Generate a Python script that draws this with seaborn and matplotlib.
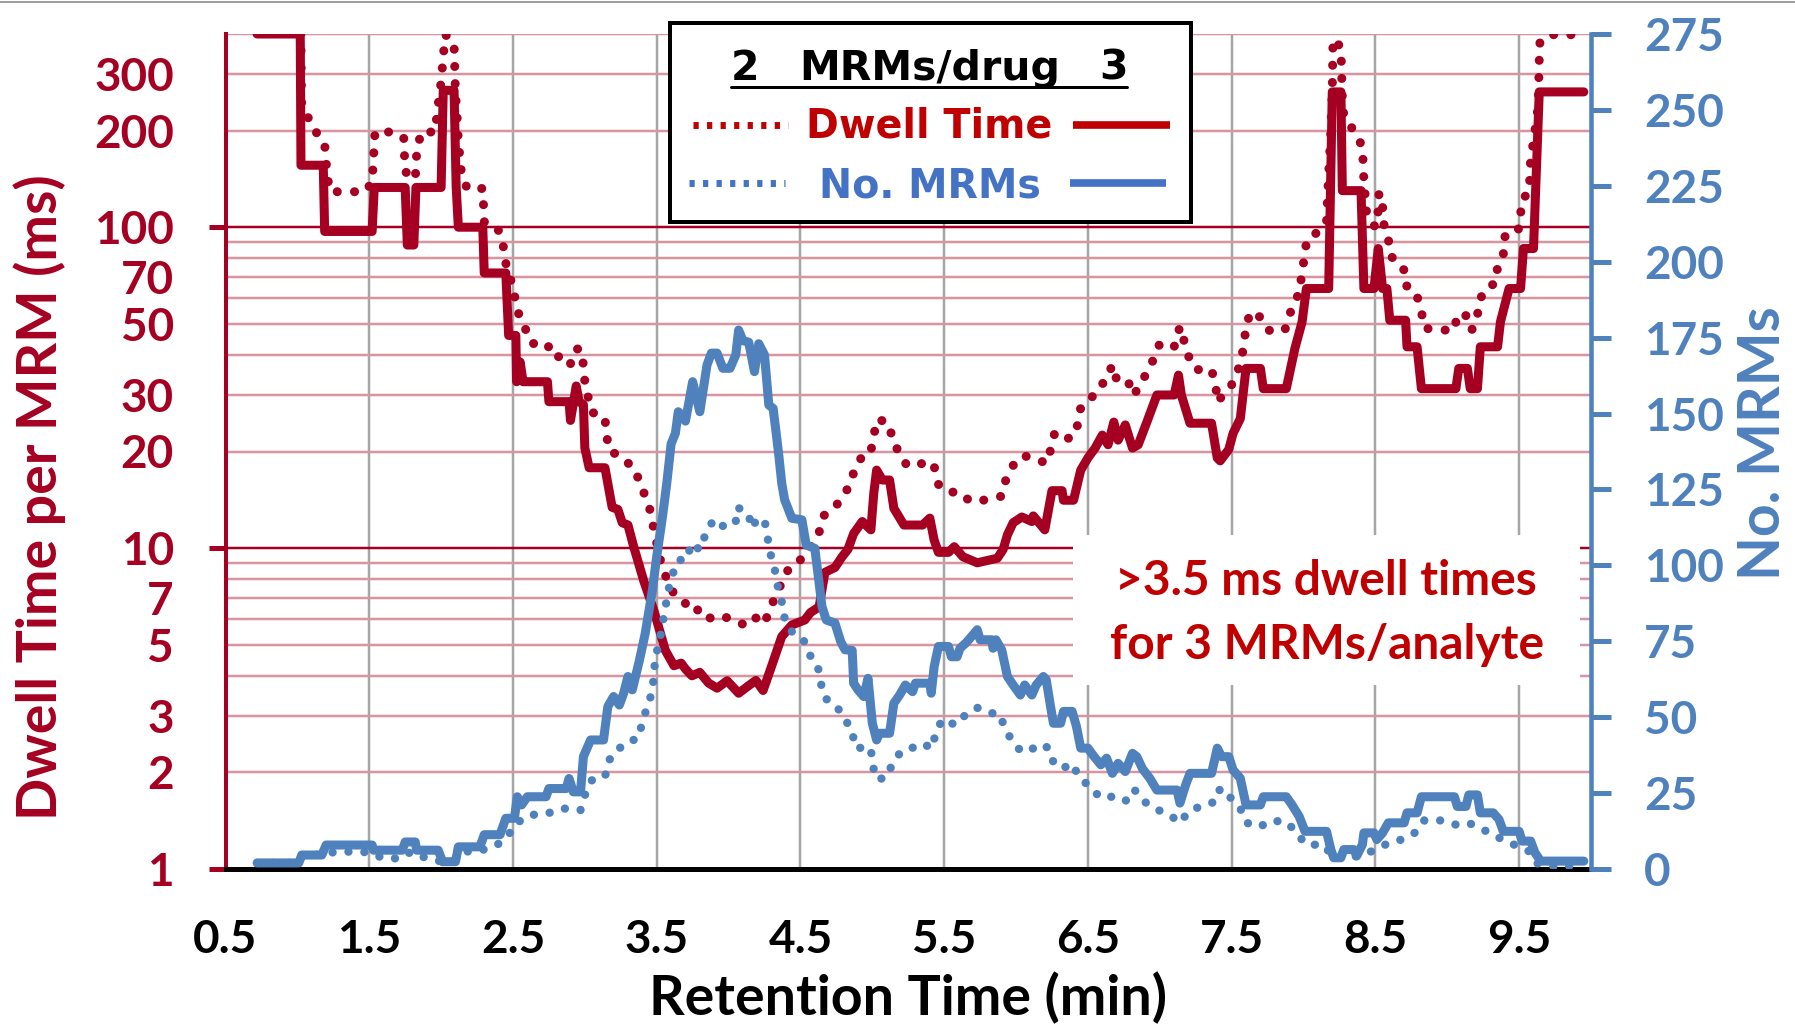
import numpy as np
import pandas as pd
import matplotlib.pyplot as plt
import seaborn as sns
from matplotlib.lines import Line2D
from matplotlib.patches import Rectangle
from matplotlib.ticker import FixedLocator, FixedFormatter

# ===============================
# DATA
# ===============================
# dwell time per MRM, 3 MRMs/drug (solid red)
rt_dwell3 = [0.72, 1.02, 1.025, 1.18, 1.19, 1.52, 1.535, 1.75, 1.765, 1.81, 1.825, 2.00, 2.015, 2.09,
             2.105, 2.12, 2.29, 2.30, 2.45, 2.47, 2.52, 2.525, 2.55, 2.57, 2.74, 2.75, 2.89, 2.90, 2.94,
             2.96, 2.99, 3.00, 3.03, 3.14, 3.19, 3.23, 3.26, 3.30, 3.34, 3.41, 3.48, 3.56, 3.62, 3.67,
             3.70, 3.745, 3.80, 3.86, 3.92, 3.99, 4.07, 4.13, 4.19, 4.24, 4.29, 4.37, 4.44, 4.53, 4.57,
             4.63, 4.67, 4.74, 4.79, 4.83, 4.87, 4.93, 4.99, 5.01, 5.03, 5.07, 5.12, 5.15, 5.22, 5.28,
             5.35, 5.40, 5.43, 5.46, 5.53, 5.57, 5.63, 5.73, 5.87, 5.91, 5.94, 5.98, 6.04, 6.11, 6.12,
             6.20, 6.25, 6.32, 6.33, 6.40, 6.45, 6.50, 6.55, 6.60, 6.64, 6.68, 6.71, 6.76, 6.81, 6.85,
             6.91, 6.98, 7.10, 7.13, 7.15, 7.21, 7.36, 7.40, 7.42, 7.48, 7.51, 7.56, 7.60, 7.70, 7.72,
             7.88, 7.91, 7.94, 7.99, 8.02, 8.175, 8.20, 8.26, 8.27, 8.40, 8.42, 8.49, 8.52, 8.55, 8.58,
             8.60, 8.71, 8.72, 8.79, 8.82, 9.06, 9.08, 9.14, 9.16, 9.21, 9.23, 9.35, 9.37, 9.43, 9.51,
             9.53, 9.60, 9.64, 9.95]
dwell3 = [400, 400, 156, 156, 97, 97, 133, 133, 88, 88, 133, 133, 267, 267,
          133, 100, 100, 72, 72, 46, 46, 33, 38, 33, 33, 28.6, 28.6, 25, 32,
          28.6, 28, 20.5, 17.8, 17.8, 13.4, 13.2, 12.0, 11.8, 10.1, 7.9, 6.4, 4.8, 4.3, 4.38,
          4.2, 4.0, 4.1, 3.8, 3.66, 3.86, 3.53, 3.7, 3.87, 3.6, 4.17, 5.3, 5.76, 5.97, 6.3,
          6.56, 8.4, 8.7, 9.4, 9.9, 11.1, 12.1, 11.4, 14.8, 17.5, 16.3, 16.3, 13.3, 11.8, 11.8,
          11.8, 12.4, 10.6, 9.7, 9.7, 10.1, 9.4, 9.0, 9.3, 9.9, 11.0, 12.0, 12.5, 12.1, 12.6,
          11.4, 15.1, 15.1, 14.1, 14.1, 17.5, 19.1, 20.5, 22.5, 21, 24.7, 21.7, 24.2, 20.5, 21,
          24.7, 30, 30, 34.6, 30, 24.5, 24.5, 19.1, 18.7, 20.3, 22.8, 25.3, 36.3, 36.3, 31.4,
          31.4, 36.3, 41.9, 50.7, 64.4, 64.4, 264, 264, 130, 130, 64.4, 64.4, 85.8, 64.4, 64.4,
          51.3, 51.3, 42.4, 42.4, 31.4, 31.4, 36.3, 36.3, 31.4, 31.4, 42.4, 42.4, 50.7, 64.4, 64.4,
          85.8, 85.8, 264, 264]

# dwell time per MRM, 2 MRMs/drug (dotted red)
rt_dwell2 = [0.72, 1.02, 1.03, 1.12, 1.14, 1.19, 1.20, 1.21, 1.23, 1.47, 1.52, 1.53, 1.54, 1.66, 1.74,
             1.75, 1.82, 1.83, 1.86, 1.96, 1.97, 2.00, 2.02, 2.03, 2.09, 2.10, 2.11, 2.12, 2.14, 2.18,
             2.29, 2.30, 2.39, 2.43, 2.44, 2.50, 2.53, 2.59, 2.63, 2.74, 2.77, 2.88, 2.90, 2.92, 2.96,
             2.99, 3.00, 3.02, 3.05, 3.14, 3.15, 3.17, 3.23, 3.28, 3.33, 3.38, 3.42, 3.46, 3.48, 3.53,
             3.57, 3.62, 3.68, 3.75, 3.81, 3.88, 3.97, 4.05, 4.11, 4.18, 4.25, 4.29, 4.34, 4.38, 4.44,
             4.52, 4.63, 4.66, 4.74, 4.80, 4.85, 4.88, 4.93, 4.99, 5.00, 5.03, 5.04, 5.12, 5.14, 5.19,
             5.24, 5.29, 5.40, 5.43, 5.46, 5.53, 5.60, 5.68, 5.75, 5.84, 5.90, 5.93, 5.98, 6.04, 6.11,
             6.17, 6.23, 6.24, 6.27, 6.33, 6.39, 6.43, 6.45, 6.52, 6.57, 6.62, 6.67, 6.70, 6.75, 6.78,
             6.82, 6.87, 6.92, 6.96, 7.00, 7.10, 7.13, 7.14, 7.17, 7.20, 7.25, 7.36, 7.39, 7.40, 7.44,
             7.50, 7.54, 7.57, 7.59, 7.60, 7.64, 7.71, 7.76, 7.87, 7.90, 7.94, 7.98, 7.985, 8.01, 8.02,
             8.09, 8.16, 8.17, 8.19, 8.20, 8.205, 8.26, 8.265, 8.27, 8.28, 8.37, 8.41, 8.415, 8.42, 8.43,
             8.44, 8.50, 8.52, 8.525, 8.55, 8.555, 8.59, 8.595, 8.64, 8.71, 8.72, 8.79, 8.82, 8.84, 8.93,
             9.05, 9.07, 9.14, 9.17, 9.21, 9.215, 9.26, 9.34, 9.35, 9.39, 9.40, 9.49, 9.51, 9.515, 9.57,
             9.575, 9.58, 9.60, 9.615, 9.63, 9.635, 9.64, 9.645, 9.72, 9.95]
dwell2 = [600, 600, 235, 205, 193, 181, 160, 142, 129, 129, 138, 165, 198, 198, 190,
          149, 141, 170, 198, 198, 223, 284, 360, 398, 376, 261, 228, 185, 150, 132,
          132, 104, 100, 90, 80, 65, 55, 47.8, 43.4, 43.4, 39.5, 39.5, 37.5, 41, 42,
          37.4, 33, 29.9, 26.5, 25.5, 22.6, 20.1, 19.5, 18.6, 18.1, 16.2, 14.5, 12.9, 11.4, 9.0,
          8.0, 7.2, 6.9, 6.3, 6.5, 6.0, 6.1, 5.97, 5.75, 6.1, 5.8, 6.56, 7.2, 8.1, 8.9,
          9.3, 11.2, 12.6, 13.4, 14.6, 15.9, 17.9, 19.3, 19.7, 21.8, 24.3, 25.3, 24.3, 21.5, 19.8,
          18.1, 18.0, 18.7, 18.0, 15.8, 14.9, 15.0, 14.0, 14.0, 14.4, 14.5, 16.4, 18.1, 19.4, 19.2,
          18.6, 18.6, 20.6, 22.9, 22.0, 22.0, 24.3, 27.4, 29.1, 31.8, 33, 37.2, 33.5, 33.9, 33,
          29.9, 33, 35.6, 39.2, 43.4, 42.4, 47.3, 49, 44, 39.6, 36, 36, 32, 28.5, 30,
          32.3, 35.3, 39.3, 44.5, 50, 54.7, 52, 47.7, 47.7, 53.2, 58.2, 64.4, 72.6, 80.9, 91,
          96, 104, 132, 200, 267, 386, 364, 300, 254, 223, 193, 178, 158, 139, 124,
          109, 100, 113, 128, 117, 103, 95, 84, 77, 73, 64.4, 61, 54.7, 48.5, 47.8,
          47.8, 53.7, 52.9, 47.8, 52.1, 57.6, 64, 67.2, 75.9, 82.3, 93.4, 96, 107, 121, 129,
          145, 164, 185, 208, 234, 263, 334, 379, 398, 398]

# number of concurrent MRMs, 3 MRMs/drug (solid blue)
rt_mrm3 = [0.72, 1.01, 1.03, 1.17, 1.20, 1.52, 1.53, 1.73, 1.75, 1.82, 1.83, 1.98, 2.01, 2.10, 2.12,
           2.27, 2.30, 2.41, 2.45, 2.51, 2.53, 2.56, 2.60, 2.73, 2.75, 2.87, 2.89, 2.92, 2.97, 2.99,
           3.04, 3.13, 3.16, 3.20, 3.24, 3.27, 3.30, 3.33, 3.38, 3.42, 3.47, 3.50, 3.54, 3.57, 3.60,
           3.63, 3.65, 3.70, 3.75, 3.80, 3.85, 3.88, 3.92, 3.96, 4.01, 4.05, 4.07, 4.10, 4.14, 4.18,
           4.21, 4.25, 4.28, 4.31, 4.33, 4.35, 4.37, 4.39, 4.44, 4.51, 4.54, 4.60, 4.65, 4.68, 4.74,
           4.78, 4.81, 4.86, 4.87, 4.90, 4.94, 4.97, 5.00, 5.03, 5.05, 5.12, 5.15, 5.19, 5.23, 5.28,
           5.30, 5.40, 5.41, 5.43, 5.46, 5.53, 5.55, 5.59, 5.61, 5.65, 5.68, 5.73, 5.75, 5.83, 5.84,
           5.86, 5.90, 5.94, 5.98, 6.03, 6.06, 6.11, 6.14, 6.19, 6.21, 6.24, 6.26, 6.31, 6.33, 6.39,
           6.42, 6.45, 6.50, 6.54, 6.59, 6.63, 6.67, 6.71, 6.76, 6.81, 6.84, 6.88, 6.93, 6.98, 7.12,
           7.14, 7.18, 7.21, 7.36, 7.40, 7.43, 7.48, 7.51, 7.56, 7.60, 7.70, 7.72, 7.88, 7.92, 7.97,
           8.01, 8.16, 8.19, 8.21, 8.26, 8.28, 8.35, 8.37, 8.41, 8.42, 8.49, 8.51, 8.55, 8.59, 8.70,
           8.72, 8.79, 8.82, 9.05, 9.07, 9.13, 9.15, 9.21, 9.23, 9.32, 9.36, 9.39, 9.50, 9.52, 9.58,
           9.61, 9.65, 9.95]
mrm3 = [2, 2, 4.6, 4.6, 7.9, 7.9, 6.2, 6.2, 8.9, 8.9, 6.2, 6.2, 2.4, 2.4, 7.3,
        7.3, 11.3, 11.3, 16.7, 16.7, 23.8, 21.1, 23.8, 23.8, 26.5, 26.5, 29.8, 25.4, 25.4, 37,
        42.5, 42.5, 53.5, 56.8, 54, 57.9, 63.4, 59, 68.8, 77.6, 91.9, 102.9, 116, 127, 140,
        143.5, 150.6, 147.5, 160.5, 150.6, 166, 169.9, 169.9, 164.9, 164.9, 169.3, 177.5, 174, 173.5, 163.8,
        173, 169.3, 152.8, 151.7, 144, 136, 127, 121.6, 115.5, 115, 106.7, 105.6, 86.4, 82, 81,
        74.9, 72.2, 72, 61.2, 59, 56.8, 62.8, 48, 42.5, 44.7, 44.7, 54.6, 57.3, 60.6, 58.4,
        61.2, 61.2, 57.9, 66.6, 73.3, 73.3, 69.9, 69.9, 72.7, 74.4, 76, 78.8, 75.5, 75.5, 72.7,
        75.5, 72.2, 63.4, 60.6, 57.3, 60.6, 57.3, 60.6, 63.4, 62.3, 53.5, 48, 48, 51.9, 51.9,
        47, 39.8, 39.8, 37.2, 34.3, 36.5, 31.5, 34.8, 32.1, 38.1, 37, 33, 29.9, 26, 26,
        21.7, 27.7, 31.5, 31.5, 39.8, 37, 37, 32.6, 29.9, 21.1, 21.1, 23.8, 23.8, 21.1, 17.3,
        12.4, 12.4, 6.4, 3.7, 3.7, 6.4, 6.4, 4.3, 8.1, 11.9, 11.9, 9.7, 11.9, 15.2, 15.2,
        18.5, 18.5, 23.8, 23.8, 20.6, 20.6, 24.4, 24.4, 18.5, 18.5, 16.3, 12.4, 12.4, 9.2, 9.2,
        5.4, 2.6, 2.6]

# number of concurrent MRMs, 2 MRMs/drug (dotted blue)
rt_mrm2 = [0.72, 1.01, 1.03, 1.28, 1.39, 1.50, 1.60, 1.72, 1.79, 1.90, 2.01, 2.10, 2.17, 2.29, 2.39,
           2.46, 2.53, 2.55, 2.63, 2.74, 2.84, 2.91, 2.97, 3.00, 3.05, 3.14, 3.17, 3.23, 3.28, 3.33,
           3.36, 3.40, 3.43, 3.47, 3.48, 3.49, 3.52, 3.54, 3.56, 3.58, 3.61, 3.65, 3.71, 3.74, 3.79,
           3.81, 3.84, 3.90, 3.96, 4.00, 4.05, 4.06, 4.13, 4.17, 4.19, 4.25, 4.27, 4.29, 4.32, 4.34,
           4.37, 4.39, 4.44, 4.52, 4.56, 4.62, 4.64, 4.67, 4.75, 4.81, 4.86, 4.88, 4.94, 4.99, 5.00,
           5.03, 5.10, 5.14, 5.20, 5.25, 5.34, 5.42, 5.44, 5.49, 5.58, 5.65, 5.73, 5.82, 5.88, 5.92,
           5.97, 6.04, 6.11, 6.18, 6.23, 6.26, 6.32, 6.39, 6.44, 6.51, 6.58, 6.64, 6.70, 6.76, 6.82,
           6.89, 6.96, 7.07, 7.14, 7.20, 7.29, 7.39, 7.42, 7.49, 7.56, 7.60, 7.69, 7.78, 7.89, 7.95,
           8.02, 8.14, 8.21, 8.30, 8.37, 8.51, 8.59, 8.70, 8.78, 8.84, 8.96, 9.06, 9.15, 9.22, 9.30,
           9.39, 9.48, 9.57, 9.62, 9.75, 9.95]
mrm2 = [2, 2, 4, 5.7, 5.7, 5.5, 3.5, 3.5, 5.7, 3.5, 2.4, 3, 5.7, 6.3, 7.9,
        11.2, 13.9, 16.1, 17.8, 18.3, 19.9, 19.9, 19.4, 24.3, 29.3, 30.4, 35.9, 39.7, 40.5, 42.5,
        42.5, 47.8, 53.1, 58.4, 63.9, 69.6, 75.1, 80.7, 86, 91.7, 97, 101.8, 101.8, 107.3, 105.5,
        105.3, 110.8, 115.2, 113, 112.5, 114.4, 119.1, 117.5, 112.2, 115, 115, 109.5, 104, 99, 93.5,
        88, 82.5, 78.2, 75.6, 70.8, 67, 61.5, 56.3, 53.7, 49.3, 45.5, 39.9, 39.9, 39.9, 34.5,
        29.5, 30.1, 34.8, 38.7, 39.2, 41.4, 39.8, 45.2, 49.3, 47.4, 50.9, 53.1, 51.3, 51.3, 46.9,
        42.2, 38.5, 39.5, 41.2, 39.6, 35.1, 33, 34.8, 30.1, 27.3, 23.8, 24.3, 22.9, 22.3, 26.3,
        22.3, 20, 17.8, 15.2, 18.9, 20.8, 22.2, 26.6, 23.6, 20.0, 15.3, 13.8, 16, 15.3, 11.8,
        8.0, 8.0, 3.6, 3.8, 4.2, 6.4, 8.6, 9.9, 12.1, 16.0, 16.0, 14.6, 15.2, 13.5, 11.9,
        9.5, 7.7, 5.8, 1.9, 0.8, 1.2]

x_ticks = [0.5, 1.5, 2.5, 3.5, 4.5, 5.5, 6.5, 7.5, 8.5, 9.5]
left_major = [1, 10, 100]
left_minor = [2, 3, 4, 5, 6, 7, 8, 9, 20, 30, 40, 50, 60, 70, 80, 90, 200, 300, 400]
left_minor_labels = ["2", "3", "", "5", "", "7", "", "", "20", "30", "", "50", "", "70", "", "",
                     "200", "300", ""]
right_ticks = list(range(0, 276, 25))

# ===============================
# STYLE
# ===============================
RED = "#A50021"
RED_TXT = "#C00000"
PINK = "#D9949F"
BLUE = "#4F81BD"
BLUE_TXT = "#4472C4"
GRAY = "#A6A6A6"
PX = 0.72  # points per pixel at dpi 100

sns.set_style("white")
plt.rcParams["font.family"] = ["Lato", "DejaVu Sans"]
plt.rcParams["font.weight"] = "bold"
plt.rcParams["axes.labelweight"] = "bold"

W, H = 1795, 1025
fig = plt.figure(figsize=(W / 100, H / 100), dpi=100)
ax = fig.add_axes([225.5 / W, 1 - 869 / H, (1591 - 225.5) / W, 835 / H])
ax2 = ax.twinx()

dots = (0, (0.01, 1.9))

# ===============================
# LINES
# ===============================
sns.lineplot(x=rt_dwell2, y=dwell2, ax=ax, color=RED, lw=6.5, linestyle=dots,
             dash_capstyle="round", estimator=None, sort=False, legend=False)
sns.lineplot(x=rt_dwell3, y=dwell3, ax=ax, color=RED, lw=6.5,
             solid_joinstyle="round", estimator=None, sort=False, legend=False)
sns.lineplot(x=rt_mrm2, y=mrm2, ax=ax2, color=BLUE, lw=6.0, linestyle=dots,
             dash_capstyle="round", estimator=None, sort=False, legend=False)
sns.lineplot(x=rt_mrm3, y=mrm3, ax=ax2, color=BLUE, lw=6.5,
             solid_joinstyle="round", estimator=None, sort=False, legend=False)

# ===============================
# AXES
# ===============================
ax.set_yscale("log")
ax.set_xlim(0.5, 10.0)
ax.set_ylim(1, 400)
ax2.set_ylim(0, 275)

ax.xaxis.set_major_locator(FixedLocator(x_ticks))
ax.set_xticklabels([f"{v:.1f}" for v in x_ticks])
ax.yaxis.set_major_locator(FixedLocator(left_major))
ax.yaxis.set_major_formatter(FixedFormatter([str(v) for v in left_major]))
ax.yaxis.set_minor_locator(FixedLocator(left_minor))
ax.yaxis.set_minor_formatter(FixedFormatter(left_minor_labels))
ax2.yaxis.set_major_locator(FixedLocator(right_ticks))

ax.set_axisbelow(True)
ax.grid(axis="x", which="major", color=GRAY, lw=2.5 * PX)
ax.grid(axis="y", which="minor", color=PINK, lw=2.5 * PX)
ax.grid(axis="y", which="major", color=RED, lw=2.5 * PX)
ax2.grid(False)

ax.tick_params(axis="x", which="major", direction="out", length=17 * PX, width=4 * PX,
               color="black", pad=24, labelsize=33, labelcolor="black")
ax.tick_params(axis="y", which="major", direction="out", length=17 * PX, width=5 * PX,
               color=RED, pad=25, labelsize=33, labelcolor=RED)
ax.tick_params(axis="y", which="minor", length=0, pad=25 + 17 * PX,
               labelsize=33, labelcolor=RED)
ax2.tick_params(axis="y", which="major", direction="out", length=20 * PX, width=5 * PX,
                color=BLUE, pad=24, labelsize=33, labelcolor=BLUE)
for lab in ax.get_xticklabels() + ax.get_yticklabels(which="both") + ax2.get_yticklabels():
    lab.set_fontweight("bold")

for s in ["top", "right"]:
    ax.spines[s].set_visible(False)
ax.spines["left"].set_color(RED)
ax.spines["left"].set_linewidth(4 * PX)
ax.spines["bottom"].set_color("black")
ax.spines["bottom"].set_linewidth(5 * PX)
for s in ["top", "left", "bottom"]:
    ax2.spines[s].set_visible(False)
ax2.spines["right"].set_color(BLUE)
ax2.spines["right"].set_linewidth(4.5 * PX)

ax.set_xlabel("Retention Time (min)", fontsize=40, fontweight="bold", color="black",
              va="baseline")
ax.xaxis.set_label_coords(0.5, (869 - 1015) / 835)
ax.set_ylabel("Dwell Time per MRM (ms)", fontsize=40, fontweight="bold", color=RED,
              va="center")
ax.yaxis.set_label_coords(-0.136, 0.4455)
ax2.set_ylabel("No. MRMs", fontsize=41, fontweight="bold", color=BLUE, va="center",
               rotation=90)
ax2.yaxis.set_label_coords(1.1265, 0.51)

# annotation box
ax.add_patch(Rectangle((0.621, 0.22), 0.371, 0.18, transform=ax.transAxes,
                       facecolor="white", edgecolor="none", zorder=1.5))


def fx(px):
    return px / W


def fy(py):
    return 1 - py / H


fig.text(fx(1326), fy(595), ">3.5 ms dwell times", ha="center", va="baseline",
         fontsize=34.5, fontweight="bold", color=RED_TXT, zorder=20)
fig.text(fx(1327), fy(659), "for 3 MRMs/analyte", ha="center", va="baseline",
         fontsize=34.5, fontweight="bold", color=RED_TXT, zorder=20)

# ===============================
# LEGEND BOX (hand-built)
# ===============================
fig.add_artist(Rectangle((fx(670), fy(222)), fx(1191) - fx(670), fy(23) - fy(222),
                         transform=fig.transFigure, facecolor="white",
                         edgecolor="black", lw=4 * PX, zorder=10))
leg_font = ["DejaVu Sans"]
fig.text(fx(745), fy(80), "2", ha="center", va="baseline", fontsize=29.5,
         family=leg_font, fontweight="bold", color="black", zorder=11)
fig.text(fx(930), fy(80), "MRMs/drug", ha="center", va="baseline", fontsize=29.5,
         family=leg_font, fontweight="bold", color="black", zorder=11)
fig.text(fx(1113), fy(80), "3", ha="center", va="baseline", fontsize=29.5,
         family=leg_font, fontweight="bold", color="black", zorder=11)
fig.add_artist(Line2D([fx(731), fx(1127)], [fy(87), fy(87)], color="black",
                      lw=3 * PX, transform=fig.transFigure, zorder=11))

fig.text(fx(929), fy(138), "Dwell Time", ha="center", va="baseline", fontsize=28.5,
         family=leg_font, fontweight="bold", color=RED_TXT, zorder=11)
fig.text(fx(930), fy(197), "No. MRMs", ha="center", va="baseline", fontsize=28.5,
         family=leg_font, fontweight="bold", color=BLUE_TXT, zorder=11)

sq_dots = (0, (0.75, 1.2))
fig.add_artist(Line2D([fx(693), fx(788)], [fy(125), fy(125)], color=RED_TXT, lw=5,
                      linestyle=sq_dots, dash_capstyle="butt",
                      transform=fig.transFigure, zorder=11))
fig.add_artist(Line2D([fx(1073), fx(1170)], [fy(125), fy(125)], color=RED_TXT, lw=5.5,
                      solid_capstyle="butt", transform=fig.transFigure, zorder=11))
fig.add_artist(Line2D([fx(689), fx(785)], [fy(183), fy(183)], color=BLUE_TXT, lw=5,
                      linestyle=sq_dots, dash_capstyle="butt",
                      transform=fig.transFigure, zorder=11))
fig.add_artist(Line2D([fx(1070), fx(1166)], [fy(183), fy(183)], color=BLUE_TXT, lw=5.5,
                      solid_capstyle="butt", transform=fig.transFigure, zorder=11))

# thin frame line at the very top of the picture
fig.add_artist(Line2D([0, 1], [fy(1.5), fy(1.5)], color="#A0A0A0", lw=2 * PX,
                      transform=fig.transFigure, zorder=12))

fig.savefig("out.png", dpi=100)
plt.close(fig)
